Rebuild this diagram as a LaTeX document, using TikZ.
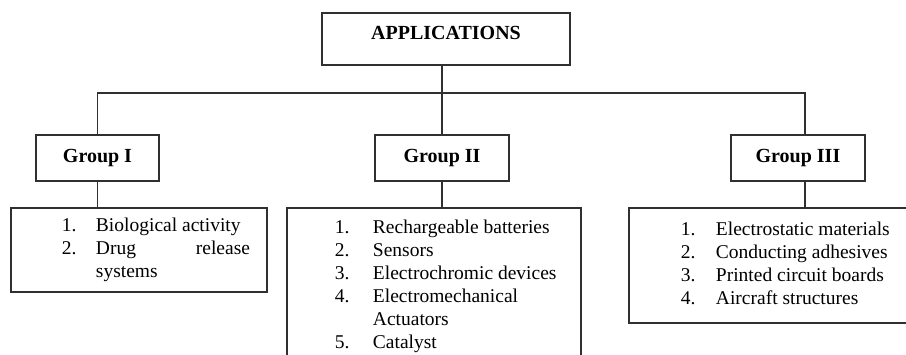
\documentclass[tikz,border=0pt]{standalone}
\usepackage{fontspec}
\setmainfont{Liberation Serif}
\usepackage{tikz}
\definecolor{linegray}{HTML}{303030}
\tikzstyle{rootbox} = [rectangle, minimum width=248pt, minimum height=52pt, text depth=12pt, text centered, draw=linegray, line width=1.6pt, font=\bfseries\fontsize{20}{23}\selectfont]
\tikzstyle{groupbox} = [rectangle, minimum width=134pt, minimum height=46pt, text centered, draw=linegray, line width=1.6pt, font=\bfseries\fontsize{20}{23}\selectfont]
\tikzstyle{listbox} = [rectangle, inner sep=0pt, draw=linegray, line width=1.6pt, font=\fontsize{19.5}{23}\selectfont]
\tikzstyle{link} = [draw=linegray, line width=1.6pt]

\begin{document}
\begin{tikzpicture}[node distance=100pt]
\node (apps) [rootbox] {APPLICATIONS};
\useasboundingbox ([xshift=-446pt, yshift=39pt]apps.center) rectangle ++(906pt,-354pt);
\node (grp2) [groupbox, below of=apps, xshift=-4pt, yshift=-19pt] {Group II};
\node (grp1) [groupbox, left of=grp2, xshift=-244.5pt, minimum width=123pt] {Group I};
\node (grp3) [groupbox, right of=grp2, xshift=256pt] {Group III};
\node (list1) [listbox, below of=grp1, xshift=41.5pt, yshift=8pt, minimum height=84pt] {%
\begin{tabular}{@{\hspace{51pt}}p{34pt}@{}p{154pt}@{\hspace{17pt}}}
1. & Biological activity\\
2. & Drug \hfill release\\
 & systems
\end{tabular}};
\node (list2) [listbox, below of=grp2, xshift=-8pt, yshift=-28pt, minimum height=156pt] {%
\begin{tabular}{@{\hspace{48pt}}p{38pt}@{}p{200pt}@{\hspace{8pt}}}
1. & Rechargeable batteries\\
2. & Sensors\\
3. & Electrochromic devices\\
4. & Electromechanical\\
 & Actuators\\
5. & Catalyst
\end{tabular}};
\node (list3) [listbox, below of=grp3, xshift=-26pt, yshift=-7.5pt, minimum height=115pt] {%
\begin{tabular}{@{\hspace{52pt}}p{35pt}@{}p{190pt}@{\hspace{9pt}}}
1. & Electrostatic materials\\
2. & Conducting adhesives\\
3. & Printed circuit boards\\
4. & Aircraft structures
\end{tabular}};

\coordinate (bus) at ([yshift=-27pt]apps.south);
\coordinate (drop3) at ([xshift=7pt]grp3.north);
\coordinate (foot3) at ([xshift=7pt]grp3.south);

\draw [link] (apps.south -| grp2.north) -- (grp2.north);
\draw [link] (grp1.north) -- (grp1.north |- bus) -- (drop3 |- bus) -- (drop3);
\draw [link] (grp1.south) -- (grp1.south |- list1.north);
\draw [link] (grp2.south) -- (grp2.south |- list2.north);
\draw [link] (foot3) -- (foot3 |- list3.north);

\end{tikzpicture}
\end{document}
